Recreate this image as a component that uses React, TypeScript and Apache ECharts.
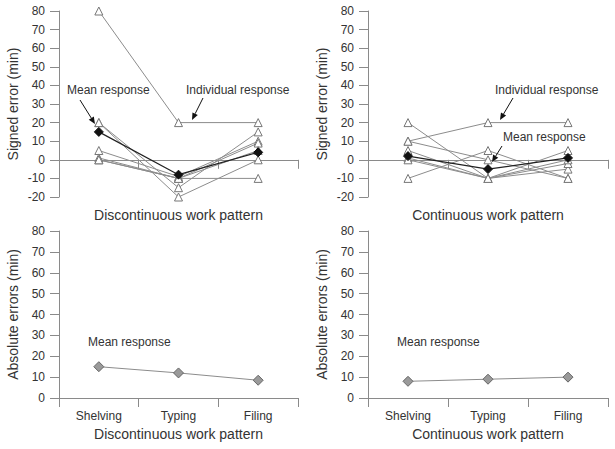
import React, { useEffect, useRef } from "react";
import * as echarts from "echarts";

const categories = ["Shelving", "Typing", "Filing"];

// Signed errors, discontinuous work pattern (individual subjects)
const discIndividual: number[][] = [
  [80, 20, 20],
  [20, -20, 0],
  [20, -15, 15],
  [5, -9, 10],
  [1, -10, 9],
  [0, -10, -10],
  [0, -10, 5],
];
const discMean = [15, -8, 4];

// Signed errors, continuous work pattern (individual subjects)
const contIndividual: number[][] = [
  [10, 20, 20],
  [20, -10, -5],
  [10, 0, -10],
  [5, -10, 5],
  [1, -10, -2],
  [0, -10, 0],
  [-10, 5, -10],
];
const contMean = [2, -5, 1];

// Absolute errors (mean response)
const discAbsMean = [15, 12, 8.5];
const contAbsMean = [8, 9, 10];

const signedTicks = { min: -20, max: 80, interval: 10 };
const absTicks = { min: 0, max: 80, interval: 10 };

const FONT = "'Liberation Sans', Arial, sans-serif";
const TEXT = "#333";
const AXIS = "#8a8a8a";

function arrow(x1: number, y1: number, x2: number, y2: number) {
  const dx = x2 - x1;
  const dy = y2 - y1;
  const len = Math.sqrt(dx * dx + dy * dy);
  const ux = dx / len;
  const uy = dy / len;
  const hl = 7;
  const hw = 3;
  const bx = x2 - ux * hl;
  const by = y2 - uy * hl;
  return [
    {
      type: "line",
      shape: { x1, y1, x2: bx, y2: by },
      style: { stroke: "#111", lineWidth: 1 },
      z: 100,
    },
    {
      type: "polygon",
      shape: {
        points: [
          [x2, y2],
          [bx - uy * hw, by + ux * hw],
          [bx + uy * hw, by - ux * hw],
        ],
      },
      style: { fill: "#111" },
      z: 100,
    },
  ];
}

function label(text: string, x: number, y: number) {
  return {
    type: "text",
    x,
    y,
    z: 100,
    style: {
      text,
      fill: TEXT,
      font: `12px ${FONT}`,
      textVerticalAlign: "middle",
      verticalAlign: "middle",
    },
  };
}

export default function App() {
  const ref = useRef<HTMLDivElement>(null);

  useEffect(() => {
    document.body.style.margin = "0";
    if (!ref.current) return;
    const chart = echarts.init(ref.current, null, { renderer: "svg" });

    const grids = [
      { left: 59, top: 11, width: 239, height: 186 },
      { left: 368, top: 11, width: 240, height: 186 },
      { left: 59, top: 231, width: 239, height: 167 },
      { left: 368, top: 231, width: 240, height: 167 },
    ];
    const xNames = [
      "Discontinuous work pattern",
      "Continuous work pattern",
      "Discontinuous work pattern",
      "Continuous work pattern",
    ];
    const yNames = [
      "Signed error (min)",
      "Signed error (min)",
      "Absolute errors (min)",
      "Absolute errors (min)",
    ];

    const xAxis = grids.map((_, i) => ({
      type: "category",
      gridIndex: i,
      data: categories,
      boundaryGap: true,
      axisLine: { show: true, onZero: true, lineStyle: { color: AXIS, width: 1 } },
      axisTick: { show: true, length: 9, alignWithLabel: false, lineStyle: { color: AXIS } },
      axisLabel: { show: i >= 2, fontSize: 12, color: TEXT, margin: 12, fontFamily: FONT },
      splitLine: { show: false },
      name: xNames[i],
      nameLocation: "middle",
      nameGap: i < 2 ? 11 : 29,
      nameTextStyle: { fontSize: 14, color: TEXT, fontFamily: FONT },
    }));

    const yAxis = grids.map((_, i) => ({
      type: "value",
      gridIndex: i,
      ...(i < 2 ? signedTicks : absTicks),
      axisLine: { show: true, lineStyle: { color: AXIS, width: 1 } },
      axisTick: { show: true, length: 9, lineStyle: { color: AXIS } },
      axisLabel: { fontSize: 12, color: TEXT, margin: 14, fontFamily: FONT },
      splitLine: { show: false },
      name: yNames[i],
      nameLocation: "middle",
      nameGap: 39,
      nameTextStyle: { fontSize: 14, color: TEXT, fontFamily: FONT },
    }));

    const individual = (data: number[], idx: number) => ({
      type: "line",
      xAxisIndex: idx,
      yAxisIndex: idx,
      data,
      symbol: "triangle",
      symbolSize: 8,
      itemStyle: { color: "#fff", borderColor: "#777", borderWidth: 1 },
      lineStyle: { color: "#8c8c8c", width: 1 },
      z: 2,
      silent: true,
    });

    const mean = (data: number[], idx: number) => ({
      type: "line",
      xAxisIndex: idx,
      yAxisIndex: idx,
      data,
      symbol: "diamond",
      symbolSize: 9,
      itemStyle: { color: "#111", borderColor: "#111", borderWidth: 1 },
      lineStyle: { color: "#222", width: 1.2 },
      z: 3,
      silent: true,
    });

    const absMean = (data: number[], idx: number) => ({
      type: "line",
      xAxisIndex: idx,
      yAxisIndex: idx,
      data,
      symbol: "diamond",
      symbolSize: 10,
      itemStyle: { color: "#9a9a9a", borderColor: "#666", borderWidth: 1 },
      lineStyle: { color: "#8c8c8c", width: 1 },
      z: 3,
      silent: true,
    });

    const series = [
      ...discIndividual.map((d) => individual(d, 0)),
      mean(discMean, 0),
      ...contIndividual.map((d) => individual(d, 1)),
      mean(contMean, 1),
      absMean(discAbsMean, 2),
      absMean(contAbsMean, 3),
    ];

    const graphic = [
      label("Mean response", 67, 90),
      ...arrow(80, 100, 95, 124),
      label("Individual response", 186, 90),
      ...arrow(203, 98, 192, 120),
      label("Individual response", 495, 90),
      ...arrow(513, 98, 500, 120),
      label("Mean response", 503, 137),
      ...arrow(502, 146, 492, 162),
      label("Mean response", 88, 342),
      label("Mean response", 397, 342),
    ];

    chart.setOption({
      animation: false,
      textStyle: { fontFamily: FONT, color: TEXT },
      grid: grids,
      xAxis,
      yAxis,
      series,
      graphic,
    } as any);

    return () => chart.dispose();
  }, []);

  return <div ref={ref} style={{ width: 615, height: 449, background: "#fff" }} />;
}
